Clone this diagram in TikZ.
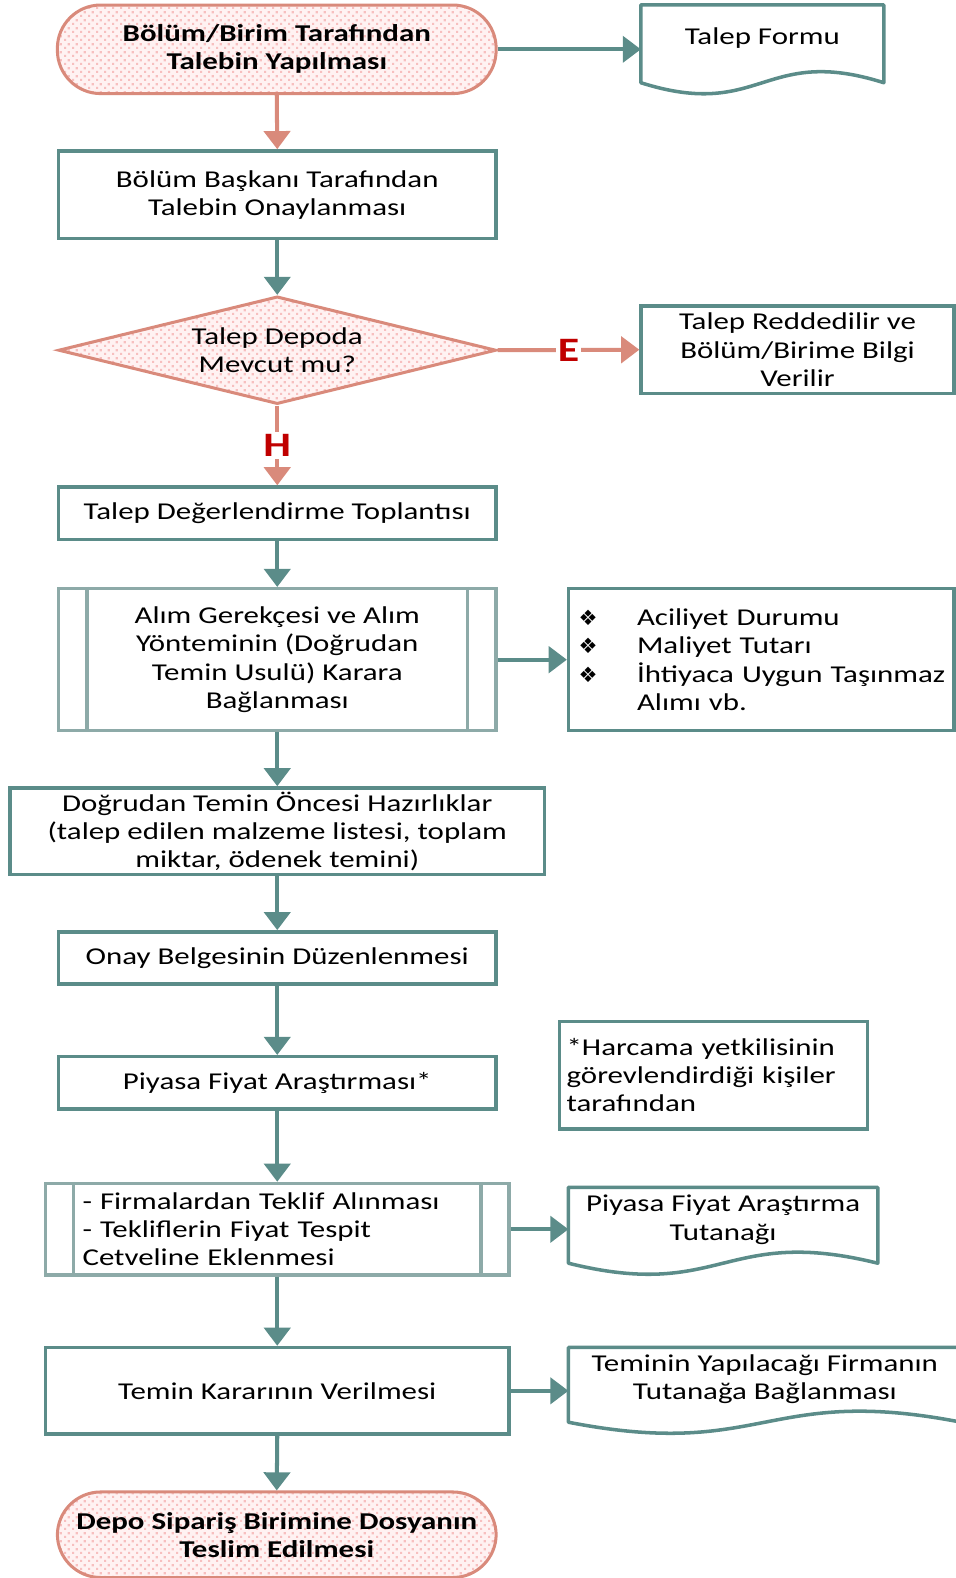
\documentclass[tikz,border=0pt]{standalone}
\usepackage{fontspec}
\setmainfont[FakeStretch=1.28]{Carlito}
\newfontfamily\bulletfont{DejaVu Sans}
\usepackage{xcolor}
\usepackage{tikz}
\usetikzlibrary{arrows.meta, shapes.geometric, patterns.meta}

\definecolor{tealline}{HTML}{5B8C89}
\definecolor{tealgray}{HTML}{8DAAA8}
\definecolor{salmon}{HTML}{D98A7B}
\definecolor{pinkbg}{HTML}{FFF2F2}
\definecolor{pinkdot}{HTML}{F7BFBF}
\definecolor{labelred}{HTML}{C00000}

\tikzdeclarepattern{
  name=pinkdots,
  type=uncolored,
  bounding box={(0pt,0pt) and (8pt,8pt)},
  tile size={(8pt,8pt)},
  code={\fill (0pt,0pt) rectangle (2.4pt,2.4pt); \fill (4pt,4pt) rectangle (6.4pt,6.4pt);}
}

\begin{document}
\begin{tikzpicture}[x=1pt, y=-1pt,
  every node/.style={font=\fontsize{24}{28}\selectfont},
  term/.style={draw=salmon, line width=3pt, rounded corners=43pt, preaction={fill=pinkbg},
    pattern=pinkdots, pattern color=pinkdot, align=center, inner sep=0pt,
    font=\fontsize{24}{28}\selectfont\bfseries},
  box/.style={draw=tealline, line width=3.5pt, fill=white, align=center, inner sep=0pt},
  predef/.style={draw=tealgray, line width=3.5pt, fill=white, align=center, inner sep=0pt},
  predefline/.style={draw=tealgray, line width=3.5pt},
  decide/.style={diamond, aspect=4.07, draw=salmon, line width=3pt, preaction={fill=pinkbg},
    pattern=pinkdots, pattern color=pinkdot, align=center, inner sep=0pt},
  docnode/.style={align=center, inner sep=0pt},
  doc/.style={draw=tealline, line width=3.5pt, line join=round},
  tealarrow/.style={draw=tealline, line width=4pt, -{Triangle[length=18pt,width=26pt]}},
  salarrow/.style={draw=salmon, line width=4pt, -{Triangle[length=18pt,width=26pt]}},
  yesno/.style={fill=white, inner sep=2pt, text=labelred, font=\fontsize{34}{34}\selectfont\bfseries}]
\useasboundingbox (0,0) rectangle (949,1568);

% main column
\node[term, minimum width=436pt, minimum height=88pt] (start) at (275,49) {Bölüm/Birim Tarafından\\Talebin Yapılması};
\node[box, minimum width=435pt, minimum height=87pt] (bbonay) at (275.5,193.5) {Bölüm Başkanı Tarafından\\Talebin Onaylanması};
\node[decide, minimum width=435pt, minimum height=107pt] (depo) at (275.5,348) {Talep Depoda\\Mevcut mu?};
\node[box, minimum width=435pt, minimum height=52pt] (toplanti) at (275.5,510) {Talep Değerlendirme Toplantısı};
\node[predef, minimum width=435pt, minimum height=141pt] (gerekce) at (275.5,655.5) {Alım Gerekçesi ve Alım\\Yönteminin (Doğrudan\\Temin Usulü) Karara\\Bağlanması};
\node[box, minimum width=531pt, minimum height=86pt] (hazirlik) at (275.5,826) {Doğrudan Temin Öncesi Hazırlıklar\\(talep edilen malzeme listesi, toplam\\miktar, ödenek temini)};
\node[box, minimum width=435pt, minimum height=52pt] (onaybelge) at (275.5,952) {Onay Belgesinin Düzenlenmesi};
\node[box, minimum width=435pt, minimum height=52pt] (piyasa) at (275.5,1076) {Piyasa Fiyat Araştırması*};
\node[predef, minimum width=461pt, minimum height=91pt, text width=387pt, inner xsep=37pt, align=left] (teklif) at (275.5,1221.5) {- Firmalardan Teklif Alınması\\- Tekliflerin Fiyat Tespit\\Cetveline Eklenmesi};
\node[box, minimum width=461pt, minimum height=86pt] (karar) at (275.5,1382) {Temin Kararının Verilmesi};
\node[term, minimum width=436pt, minimum height=85pt] (teslim) at (275,1525) {Depo Sipariş Birimine Dosyanın\\Teslim Edilmesi};

% side column
\node[docnode, minimum width=241pt, minimum height=66pt] (form) at (757.5,38) {Talep Formu};
\node[box, minimum width=311pt, minimum height=87pt] (red) at (792.5,347.5) {Talep Reddedilir ve\\Bölüm/Birime Bilgi\\Verilir};
\node[box, minimum width=383pt, minimum height=141pt, text width=363pt, inner xsep=10pt, align=left] (kriter) at (756.5,655.5)
  {\mbox{\makebox[58pt][l]{\bulletfont\fontsize{21}{28}\selectfont ❖}Aciliyet Durumu}\\
   \mbox{\makebox[58pt][l]{\bulletfont\fontsize{21}{28}\selectfont ❖}Maliyet Tutarı}\\
   \mbox{\makebox[58pt][l]{\bulletfont\fontsize{21}{28}\selectfont ❖}İhtiyaca Uygun Taşınmaz}\\
   \mbox{\hspace*{58pt}Alımı vb.}};
\node[box, minimum width=306pt, minimum height=107pt, text width=292pt, inner xsep=7pt, align=left] (dipnot) at (709,1068.5) {*Harcama yetkilisinin\\görevlendirdiği kişiler\\tarafından};
\node[docnode, minimum width=307pt, minimum height=64pt] (tutanak) at (718.5,1212) {Piyasa Fiyat Araştırma\\Tutanağı};
\node[docnode, minimum width=390pt, minimum height=63pt] (firma) at (760,1370.5) {Teminin Yapılacağı Firmanın\\Tutanağa Bağlanması};

% document outlines
\draw[doc] (form.north west) -- ([yshift=-11pt]form.south west) .. controls +(120,38) and +(-120,-38) .. ([yshift=-11pt]form.south east) -- (form.north east) -- cycle;
\draw[doc] (tutanak.north west) -- ([yshift=-11pt]tutanak.south west) .. controls +(153,38) and +(-153,-38) .. ([yshift=-11pt]tutanak.south east) -- (tutanak.north east) -- cycle;
\draw[doc] (firma.north west) -- ([yshift=-11pt]firma.south west) .. controls +(195,38) and +(-195,-38) .. ([yshift=-11pt]firma.south east) -- (firma.north east) -- cycle;

% predefined process side bars
\draw[predefline] ([xshift=30pt]gerekce.north west) -- ([xshift=30pt]gerekce.south west);
\draw[predefline] ([xshift=-30pt]gerekce.north east) -- ([xshift=-30pt]gerekce.south east);
\draw[predefline] ([xshift=30pt]teklif.north west) -- ([xshift=30pt]teklif.south west);
\draw[predefline] ([xshift=-30pt]teklif.north east) -- ([xshift=-30pt]teklif.south east);

% connectors
\draw[salarrow] (start.south) -- (bbonay.north);
\draw[tealarrow] (start.east) -- (start.east -| form.west);
\draw[tealarrow] (bbonay.south) -- (depo.north);
\draw[salarrow] (depo.east) -- node[yesno] {E} (red.west);
\draw[salarrow] (depo.south) -- node[yesno] {H} (toplanti.north);
\draw[tealarrow] (toplanti.south) -- (gerekce.north);
\draw[tealarrow] (gerekce.east) -- (kriter.west);
\draw[tealarrow] (gerekce.south) -- (hazirlik.north);
\draw[tealarrow] (hazirlik.south) -- (onaybelge.north);
\draw[tealarrow] (onaybelge.south) -- (piyasa.north);
\draw[tealarrow] (piyasa.south) -- (teklif.north);
\draw[tealarrow] (teklif.east) -- (teklif.east -| tutanak.west);
\draw[tealarrow] (teklif.south) -- (karar.north);
\draw[tealarrow] (karar.east) -- (karar.east -| firma.west);
\draw[tealarrow] (karar.south) -- (teslim.north);
\end{tikzpicture}
\end{document}
